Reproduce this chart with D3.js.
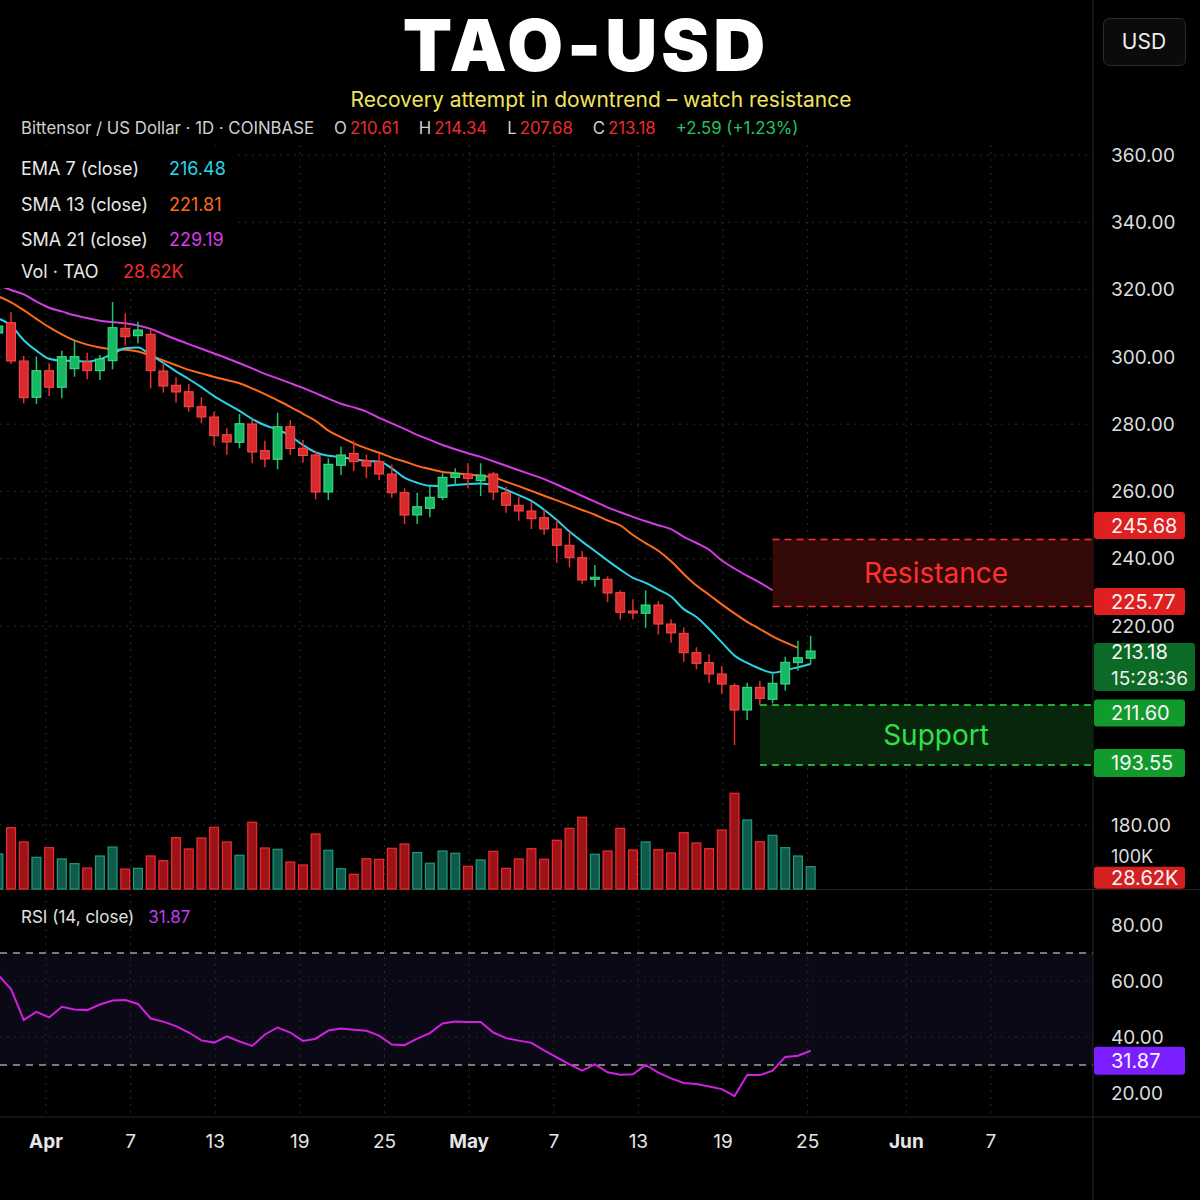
<!DOCTYPE html>
<html>
<head>
<meta charset="utf-8">
<title>TAO-USD</title>
<style>
  * { margin: 0; padding: 0; }
  body { background: #000; }
  svg { display: block; font-family: Inter, "Noto Sans", sans-serif; }
</style>
</head>
<body>
<script src="https://cdn.jsdelivr.net/npm/d3@7"></script>
<script>
var w = 1200;
var h = 1200;

// daily candles, oldest first (the first one is cut by the left edge)
var opens = [307.09, 310.15, 298.77, 287.98, 295.89, 290.95, 296.48, 298.47, 295.89, 298.86,
  308.49, 306.29, 306.70, 295.80, 291.55, 289.64, 285.18, 282.12, 276.86, 274.60,
  280.04, 272.11, 269.55, 279.24, 272.82, 270.83, 259.83, 267.77, 271.27, 269.10,
  268.84, 265.18, 259.62, 252.99, 254.98, 258.25, 264.20, 265.18, 263.19, 265.18,
  259.62, 255.88, 254.18, 252.19, 248.83, 243.99, 240.30, 233.88, 233.88, 229.90,
  224.46, 223.78, 226.24, 220.59, 219.22, 217.16, 216.10, 214.90, 213.65, 210.10,
  213.48, 212.21, 213.83, 216.10, 216.57];
var highs = [311.55, 313.24, 300.25, 300.05, 298.08, 301.83, 305.01, 301.24, 300.55, 316.31,
  312.95, 310.45, 308.19, 298.26, 293.92, 291.93, 287.98, 283.70, 278.76, 283.02,
  281.23, 275.08, 283.40, 281.23, 275.29, 272.11, 269.85, 273.30, 275.08, 270.98,
  271.21, 268.00, 260.93, 259.62, 261.61, 265.39, 266.88, 268.36, 268.36, 265.86,
  261.40, 258.25, 256.95, 254.69, 251.51, 248.03, 242.29, 238.13, 234.77, 230.61,
  227.94, 230.61, 227.43, 221.99, 219.86, 217.74, 216.99, 215.75, 213.91, 213.97,
  214.18, 214.90, 216.74, 218.44, 218.97];
var lows = [305.01, 297.88, 286.19, 285.99, 288.37, 287.68, 294.10, 293.33, 293.12, 296.30,
  303.32, 304.03, 290.65, 289.35, 286.37, 283.70, 280.25, 273.50, 270.92, 272.82,
  268.36, 267.17, 266.58, 270.83, 268.54, 257.66, 257.45, 264.88, 266.07, 263.90,
  263.40, 258.11, 250.32, 250.32, 252.31, 257.45, 261.61, 260.93, 258.64, 257.45,
  253.68, 251.30, 248.83, 247.05, 238.82, 237.45, 232.40, 231.68, 227.07, 221.87,
  221.99, 219.81, 219.10, 218.22, 216.20, 215.40, 213.97, 212.77, 199.57, 207.09,
  211.60, 211.78, 213.12, 215.25, 215.96];
var closes = [309.17, 298.77, 287.86, 295.89, 290.95, 300.05, 300.05, 295.89, 299.36, 308.67,
  305.99, 307.98, 295.89, 291.34, 289.55, 285.18, 282.12, 276.56, 274.69, 280.13,
  271.72, 269.64, 279.24, 272.76, 270.68, 259.83, 268.06, 270.83, 268.84, 267.56,
  265.18, 259.62, 252.99, 255.46, 258.25, 264.20, 265.39, 263.90, 264.88, 259.83,
  255.88, 254.18, 251.89, 248.83, 243.99, 240.30, 233.67, 234.48, 229.81, 224.07,
  224.01, 226.24, 220.59, 219.26, 217.16, 216.03, 214.90, 213.83, 210.10, 213.48,
  212.31, 213.91, 216.14, 216.63, 217.34];
// volume in thousands of TAO
var volumes = [45, 78.6, 60.3, 40.6, 53.0, 38.5, 32.5, 26.9, 42.3, 53.8,
  25.6, 26.5, 42.3, 36.3, 65.8, 51.3, 65.4, 79.1, 60.3, 43.2,
  85.5, 52.6, 50.9, 34.6, 30.8, 70.5, 49.6, 26.0, 18.8, 38.8,
  38.1, 52.2, 57.7, 46.7, 33.0, 48.7, 45.8, 29.1, 37.2, 48.3,
  26.5, 38.5, 51.7, 38.1, 62.4, 77.8, 91.9, 44.5, 48.7, 77.8,
  50.0, 60.3, 50.4, 46.2, 72.2, 59.0, 51.7, 75.6, 122.7, 88.5,
  60.6, 68.8, 53.0, 42.3, 28.62];
var ema7 = [311.40, 309.29, 304.95, 301.86, 299.42, 298.86, 298.83, 298.59, 299.33, 300.91,
  302.54, 302.78, 300.55, 298.20, 295.71, 293.42, 290.98, 288.31, 286.08, 283.94,
  281.53, 279.66, 278.41, 276.48, 273.77, 271.60, 270.59, 270.26, 269.55, 269.04,
  268.87, 266.87, 264.08, 262.56, 261.67, 261.64, 261.88, 262.24, 262.39, 261.88,
  260.51, 258.91, 257.18, 254.54, 251.48, 248.06, 245.09, 242.29, 239.47, 236.76,
  234.33, 232.84, 230.82, 228.77, 225.02, 222.68, 219.68, 218.26, 216.85, 216.07,
  215.45, 215.04, 215.29, 215.62, 215.96];
var sma13 = [317.94, 316.22, 313.87, 311.31, 308.82, 306.70, 304.89, 303.64, 302.78, 302.28,
  302.13, 301.62, 300.40, 298.95, 297.52, 296.12, 295.08, 294.04, 293.12, 292.17,
  290.62, 288.90, 287.06, 285.15, 283.07, 280.99, 278.08, 276.12, 274.28, 272.79,
  271.48, 270.06, 268.90, 267.59, 266.64, 265.80, 265.42, 265.06, 264.62, 264.20,
  262.89, 261.56, 260.16, 258.73, 257.33, 255.91, 254.48, 253.08, 251.36, 249.90,
  247.05, 244.64, 242.35, 239.23, 235.46, 232.01, 229.30, 226.42, 223.75, 221.25,
  219.68, 218.90, 218.25, 217.69, null];
var sma21 = [321.24, 319.87, 318.56, 316.42, 314.61, 313.51, 312.35, 311.55, 310.75, 310.36,
  310.00, 309.32, 308.31, 306.73, 305.22, 303.79, 302.40, 301.00, 299.60, 298.11,
  296.57, 294.96, 293.60, 292.20, 290.77, 289.20, 287.59, 286.08, 284.98, 283.73,
  281.86, 280.22, 278.59, 276.83, 275.32, 273.80, 272.52, 271.36, 270.26, 268.96,
  267.65, 266.31, 265.00, 263.66, 262.06, 260.36, 258.64, 256.98, 255.25, 253.80,
  252.43, 251.12, 249.96, 248.80, 246.51, 244.67, 242.65, 239.47, 237.09, 234.92,
  232.87, 230.61, null, null, null];
var rsi14 = [62.1, 57.1, 46.1, 49.0, 47.0, 50.8, 49.8, 49.6, 51.6, 53.0,
  53.2, 51.8, 46.6, 45.5, 43.9, 41.6, 38.8, 38.0, 40.2, 38.4,
  36.8, 40.9, 43.4, 41.6, 38.6, 39.4, 42.3, 43.0, 42.6, 42.2,
  40.5, 37.3, 37.1, 39.4, 41.4, 44.8, 45.5, 45.4, 45.4, 41.6,
  39.6, 38.7, 37.9, 35.2, 32.7, 30.2, 28.0, 30.2, 27.4, 26.5,
  26.7, 30.0, 27.3, 25.2, 23.6, 23.2, 22.3, 21.4, 18.9, 26.4,
  26.4, 28.0, 32.9, 33.3, 35.1];

var priceTicks = [180, 220, 240, 260, 280, 300, 320, 340, 360];
var rsiTicks = [20, 40, 60, 80];
var rsiBands = [30, 70];
var dateTicks = ["2025-04-01", "2025-04-07", "2025-04-13", "2025-04-19", "2025-04-25",
  "2025-05-01", "2025-05-07", "2025-05-13", "2025-05-19", "2025-05-25",
  "2025-06-01", "2025-06-07"];
var resistance = [225.77, 245.68];
var support = [193.55, 211.60];
var resistanceFrom = 61; // candle index where the zone starts
var supportFrom = 60;

var lastPrice = "213.18";
var countdown = "15:28:36";
var lastVolume = 28.62;
var lastRsi = 31.87;

var red = "#ef2b2d";
var green = "#1fc26e";
var plotR = 1093;

var svg = d3.select("body")
  .append("svg")
  .attr("width", w)
  .attr("height", h);
svg.append("rect").attr("width", w).attr("height", h).attr("fill", "#000");

// scales
var n = opens.length;
var x = d3.scaleBand()
  .domain(d3.range(n))
  .range([-8, 817])
  .paddingInner(0.3)
  .paddingOuter(0.15);
function cx(i) { return x(i) + x.bandwidth() / 2; }

var parseDate = d3.utcParse("%Y-%m-%d");
var tickDates = dateTicks.map(parseDate);
var xDate = d3.scaleUtc()
  .domain([parseDate("2025-04-01"), parseDate("2025-06-07")])
  .range([46, 991]);

var y = d3.scaleLinear()
  .domain([180, 193.55, 211.6, 220, 360])
  .range([825, 765, 705, 626, 155]);
var yVol = d3.scaleLinear().domain([0, 100]).range([889, 811]);
var yRsi = d3.scaleLinear().domain([30, 70]).range([1065, 953]);

// rsi background band
svg.append("rect")
  .attr("x", 0).attr("width", plotR)
  .attr("y", yRsi(70)).attr("height", yRsi(30) - yRsi(70))
  .attr("fill", "#0c0917");

// grid
var grid = svg.append("g")
  .attr("stroke", "#2b2b2b")
  .attr("stroke-dasharray", "2,5");
grid.selectAll("line.gx")
  .data(tickDates)
  .join("line")
  .attr("class", "gx")
  .attr("x1", d => xDate(d)).attr("x2", d => xDate(d))
  .attr("y1", 145).attr("y2", 1117);
grid.selectAll("line.gy")
  .data(priceTicks)
  .join("line")
  .attr("class", "gy")
  .attr("x1", 0).attr("x2", plotR)
  .attr("y1", d => y(d)).attr("y2", d => y(d));
grid.selectAll("line.gr")
  .data([40, 60])
  .join("line")
  .attr("class", "gr")
  .attr("x1", 0).attr("x2", plotR)
  .attr("y1", d => yRsi(d)).attr("y2", d => yRsi(d));

svg.append("g")
  .selectAll("line")
  .data(rsiBands)
  .join("line")
  .attr("x1", 0).attr("x2", plotR)
  .attr("y1", d => yRsi(d)).attr("y2", d => yRsi(d))
  .attr("stroke", "#a0a0a0")
  .attr("stroke-width", 1.3)
  .attr("stroke-dasharray", "7,6");

// pane borders
svg.append("line").attr("x1", plotR).attr("x2", plotR).attr("y1", 0).attr("y2", h)
  .attr("stroke", "#262626");
svg.append("line").attr("x1", 0).attr("x2", w).attr("y1", 889.5).attr("y2", 889.5)
  .attr("stroke", "#262626");
svg.append("line").attr("x1", 0).attr("x2", w).attr("y1", 1117).attr("y2", 1117)
  .attr("stroke", "#262626");

// support / resistance zones
function zone(vals, from, fill, stroke, label) {
  var g = svg.append("g");
  var x0 = cx(from);
  g.append("rect")
    .attr("x", x0).attr("width", plotR - x0)
    .attr("y", y(vals[1])).attr("height", y(vals[0]) - y(vals[1]))
    .attr("fill", fill);
  g.selectAll("line")
    .data(vals)
    .join("line")
    .attr("x1", x0).attr("x2", plotR)
    .attr("y1", d => y(d)).attr("y2", d => y(d))
    .attr("stroke", stroke)
    .attr("stroke-width", 1.5)
    .attr("stroke-dasharray", "7,5");
  g.append("text")
    .attr("x", 936)
    .attr("y", (y(vals[0]) + y(vals[1])) / 2)
    .attr("dy", "0.35em")
    .attr("text-anchor", "middle")
    .attr("font-size", "28px")
    .attr("fill", stroke)
    .text(label);
}
zone(resistance, resistanceFrom, "#360909", "#ff3030", "Resistance");
zone(support, supportFrom, "#07260c", "#2ee04a", "Support");

// volume
svg.append("g")
  .selectAll("rect")
  .data(volumes)
  .join("rect")
  .attr("x", (d, i) => x(i))
  .attr("width", x.bandwidth())
  .attr("y", d => yVol(d))
  .attr("height", d => yVol(0) - yVol(d))
  .attr("fill", (d, i) => closes[i] >= opens[i] ? "#0f5a4b" : "#9c1418")
  .attr("stroke", (d, i) => closes[i] >= opens[i] ? "#1c9c7e" : "#f02a2e")
  .attr("stroke-width", 1.2);

// moving averages
function maLine(vals, color) {
  var line = d3.line()
    .defined(d => d != null)
    .x((d, i) => cx(i))
    .y(d => y(d))
    .curve(d3.curveMonotoneX);
  svg.append("path")
    .datum(vals)
    .attr("d", line)
    .attr("fill", "none")
    .attr("stroke", color)
    .attr("stroke-width", 2);
}
maLine(sma21, "#d63be6");
maLine(sma13, "#ff6a1a");
maLine(ema7, "#2ad4e8");

// candles
var candles = svg.append("g")
  .selectAll("g")
  .data(d3.range(n))
  .join("g");
candles.append("line")
  .attr("x1", i => cx(i)).attr("x2", i => cx(i))
  .attr("y1", i => y(highs[i])).attr("y2", i => y(lows[i]))
  .attr("stroke", i => closes[i] >= opens[i] ? green : red)
  .attr("stroke-width", 1.5);
candles.append("rect")
  .attr("x", i => x(i))
  .attr("width", x.bandwidth())
  .attr("y", i => y(Math.max(opens[i], closes[i])))
  .attr("height", i => Math.max(2, Math.abs(y(opens[i]) - y(closes[i]))))
  .attr("fill", i => closes[i] >= opens[i] ? "#17b864" : "#d92b2d")
  .attr("stroke", i => closes[i] >= opens[i] ? "#3fe08c" : "#ff4a4a")
  .attr("stroke-width", 1);

// rsi line
svg.append("path")
  .datum(rsi14)
  .attr("d", d3.line().x((d, i) => cx(i)).y(d => yRsi(d)))
  .attr("fill", "none")
  .attr("stroke", "#d21fe0")
  .attr("stroke-width", 2);

// right axis labels
var axisText = svg.append("g")
  .attr("fill", "#dcdcdc")
  .attr("font-size", "19px");
axisText.selectAll("text.p")
  .data(priceTicks)
  .join("text")
  .attr("class", "p")
  .attr("x", 1111)
  .attr("y", d => y(d))
  .attr("dy", "0.35em")
  .text(d => d3.format(".2f")(d));
axisText.selectAll("text.r")
  .data(rsiTicks)
  .join("text")
  .attr("class", "r")
  .attr("x", 1111)
  .attr("y", d => yRsi(d))
  .attr("dy", "0.35em")
  .text(d => d3.format(".2f")(d));
axisText.append("text")
  .attr("x", 1111).attr("y", yVol(lastVolume) - 10)
  .attr("dy", "0.35em")
  .attr("font-size", "18px")
  .text("100K");

function tag(yc, txt, fill, hgt, wid) {
  var g = svg.append("g");
  g.append("rect")
    .attr("x", 1094).attr("y", yc - hgt / 2)
    .attr("width", wid || 91).attr("height", hgt)
    .attr("rx", 3)
    .attr("fill", fill);
  g.append("text")
    .attr("x", 1111).attr("y", yc)
    .attr("dy", "0.35em")
    .attr("fill", "#f6f6f6")
    .attr("font-size", "20px")
    .text(txt);
  return g;
}
tag(y(resistance[1]) - 14, d3.format(".2f")(resistance[1]), "#df2020", 27);
tag(y(resistance[0]) - 5, d3.format(".2f")(resistance[0]), "#df2020", 27);
tag(y(support[1]) + 8, d3.format(".2f")(support[1]), "#119b2c", 27);
tag(y(support[0]) - 2, d3.format(".2f")(support[0]), "#119b2c", 28);
var lastTag = tag(y(closes[n - 1]) + 16, lastPrice, "#0d6a26", 48, 101);
lastTag.select("text").attr("dy", "-0.4em");
lastTag.append("text")
  .attr("x", 1111).attr("y", y(closes[n - 1]) + 16)
  .attr("dy", "0.95em")
  .attr("fill", "#f0f0f0")
  .attr("font-size", "19px")
  .text(countdown);
tag(yVol(lastVolume) + 11, d3.format(".2f")(lastVolume) + "K", "#d42020", 22);
tag(yRsi(lastRsi) + 1, d3.format(".2f")(lastRsi), "#7a1fff", 28);

// date axis
svg.append("g")
  .selectAll("text")
  .data(tickDates)
  .join("text")
  .attr("x", d => xDate(d))
  .attr("y", 1141)
  .attr("dy", "0.35em")
  .attr("text-anchor", "middle")
  .attr("fill", "#e6e6e6")
  .attr("font-size", "19px")
  .attr("font-weight", d => d.getUTCDate() === 1 ? 700 : 400)
  .text(d => d.getUTCDate() === 1 ? d3.utcFormat("%b")(d) : d.getUTCDate());

// legend block
svg.append("rect").attr("x", 0).attr("y", 146).attr("width", 238).attr("height", 142)
  .attr("fill", "#000");
var legendRows = [
  ["EMA 7 (close)", "216.48", "#2ad4e8", 169, 169],
  ["SMA 13 (close)", "221.81", "#ff6a1a", 205, 169],
  ["SMA 21 (close)", "229.19", "#d63be6", 240, 169],
  ["Vol · TAO", "28.62K", "#ef2b2d", 272, 123]
];
var leg = svg.append("g").attr("font-size", "18px");
leg.selectAll("text.k")
  .data(legendRows)
  .join("text")
  .attr("class", "k")
  .attr("x", 21).attr("y", d => d[3]).attr("dy", "0.35em")
  .attr("fill", "#e8e8e8")
  .text(d => d[0]);
leg.selectAll("text.v")
  .data(legendRows)
  .join("text")
  .attr("class", "v")
  .attr("x", d => d[4]).attr("y", d => d[3]).attr("dy", "0.35em")
  .attr("fill", d => d[2])
  .text(d => d[1]);

svg.append("text")
  .attr("x", 21).attr("y", 917).attr("dy", "0.35em")
  .attr("font-size", "17px")
  .attr("fill", "#e0e0e0")
  .text("RSI (14, close)")
  .append("tspan")
  .attr("dx", 14)
  .attr("fill", "#c23cf0")
  .text(d3.format(".2f")(lastRsi));

// header
svg.append("text")
  .attr("x", 586).attr("y", 71)
  .attr("text-anchor", "middle")
  .attr("fill", "#fff")
  .attr("font-size", "72px")
  .attr("font-weight", 900)
  .attr("letter-spacing", "4px")
  .text("TAO-USD");
svg.append("text")
  .attr("x", 601).attr("y", 100).attr("dy", "0.35em")
  .attr("text-anchor", "middle")
  .attr("fill", "#f2e35c")
  .attr("font-size", "21px")
  .text("Recovery attempt in downtrend – watch resistance");

svg.append("rect")
  .attr("x", 1103.5).attr("y", 18.5).attr("width", 82).attr("height", 47)
  .attr("rx", 6).attr("fill", "#0b0b0b").attr("stroke", "#2c2c2c");
svg.append("text")
  .attr("x", 1144).attr("y", 42).attr("dy", "0.35em")
  .attr("text-anchor", "middle")
  .attr("fill", "#eee").attr("font-size", "21px")
  .text("USD");

var info = svg.append("text")
  .attr("x", 21).attr("y", 128).attr("dy", "0.35em")
  .attr("font-size", "16.8px")
  .attr("fill", "#d0d0d0");
info.append("tspan").text("Bittensor / US Dollar · 1D · COINBASE");
[["O", "210.61"], ["H", "214.34"], ["L", "207.68"], ["C", "213.18"]].forEach(function(p) {
  info.append("tspan").attr("dx", 20).text(p[0]);
  info.append("tspan").attr("dx", 3).attr("fill", red).text(p[1]);
});
info.append("tspan").attr("dx", 20).attr("fill", "#22c55e").text("+2.59 (+1.23%)");
</script>
</body>
</html>
